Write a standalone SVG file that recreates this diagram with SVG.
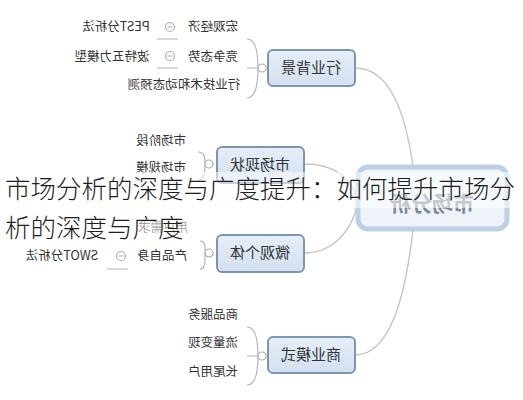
<svg xmlns="http://www.w3.org/2000/svg" width="523" height="400" viewBox="0 0 523 400">
<defs>
<linearGradient id="bg" x1="0" y1="0" x2="0" y2="1"><stop offset="0" stop-color="#e6eef8"/><stop offset="1" stop-color="#d3e0f0"/></linearGradient>
<linearGradient id="ul" x1="0" y1="0" x2="1" y2="0"><stop offset="0" stop-color="#4e7491"/><stop offset="1" stop-color="#7e9bb3"/></linearGradient>
</defs>
<style>
text{font-family:"Noto Sans CJK SC","Noto Sans",sans-serif;text-anchor:middle}
.c{font-size:12.5px;fill:#333}
.b{font-size:15px;fill:#333}
.m{font-size:21px;font-weight:bold;fill:#7d8898}
.bx{fill:url(#bg);stroke:#7f95ae;stroke-width:2}
.u{stroke:url(#ul);stroke-width:3;fill:none}
.k{stroke:#c9c9c2;stroke-width:1.5;fill:none}
.f{stroke:#b0b6bc;stroke-width:1.2;fill:none}
.o{fill:#fff;stroke:#a7afb8;stroke-width:1.2}
.ov{font-size:25.5px;font-weight:300;fill:#1e1e1e;text-anchor:start}
</style>
<rect width="523" height="400" fill="#fff"/>
<g id="connectors">
<path class="k" d="M355,68 C392,68 406,118 413,166"/>
<path class="k" d="M355,355 C392,355 406,290 413,230"/>
<path class="k" d="M304,164 C335,164 352,178 357,200"/>
<path class="k" d="M304,253 C335,253 352,228 357,206"/>
<path class="f" d="M247,39 C256,39 258,52 258,68 C258,84 256,98 247,98 M247,68 L258,68"/>
<path class="f" d="M157,39 L178,39 M157,68 L178,68"/>
<path class="f" d="M198,152 C205,152 205,158 205,164 C205,170 205,180 198,180"/>
<path class="f" d="M200,241 C206,241 205,247 205,253 C205,260 206,269 200,269 M107,269 L128,269"/>
<path class="f" d="M247,327 C256,327 258,340 258,356 C258,372 256,385 247,385 M247,356 L258,356"/>
</g>
<g id="center">
<rect x="358" y="167" width="149" height="62" rx="10" fill="#eef3f9" stroke="#bccfe3" stroke-width="5"/>
<text class="m" transform="translate(432,211) scale(-1,1)">市场分析</text>
</g>
<g id="n-hybj">
<rect class="bx" x="268" y="50" width="87" height="36" rx="5"/>
<text class="b" transform="translate(311,73) scale(-1,1)">行业背景</text>
<circle class="o" cx="262" cy="68" r="4"/>
</g>
<g id="n-hgjj"><line class="u" x1="178" y1="39" x2="247" y2="39"/><text class="c" transform="translate(213,31) scale(-1,1)">宏观经济</text>
<circle class="o" cx="170" cy="27" r="4.5"/><line x1="167.5" y1="27" x2="172.5" y2="27" stroke="#a7afb8"/></g>
<g id="n-pest"><line class="u" x1="75" y1="39" x2="157" y2="39"/><text class="c" transform="translate(116,31) scale(-1,1)">PEST分析法</text></g>
<g id="n-jzts"><line class="u" x1="178" y1="68" x2="247" y2="68"/><text class="c" transform="translate(213,61) scale(-1,1)">竞争态势</text>
<circle class="o" cx="170" cy="56" r="4.5"/><line x1="167.5" y1="56" x2="172.5" y2="56" stroke="#a7afb8"/></g>
<g id="n-btwl"><line class="u" x1="67" y1="68" x2="157" y2="68"/><text class="c" transform="translate(112,61) scale(-1,1)">波特五力模型</text></g>
<g id="n-hyjs"><line class="u" x1="120" y1="98" x2="247" y2="98"/><text class="c" transform="translate(184,89) scale(-1,1)">行业技术和动态预测</text></g>
<g id="n-scxz">
<rect class="bx" x="217" y="147" width="87" height="36" rx="5"/>
<text class="b" transform="translate(260,170) scale(-1,1)">市场现状</text>
<circle class="o" cx="209" cy="164" r="4"/>
</g>
<g id="n-scjd"><line class="u" x1="128" y1="152" x2="198" y2="152"/><text class="c" transform="translate(161,145) scale(-1,1)">市场阶段</text></g>
<g id="n-scgm"><line class="u" x1="128" y1="180" x2="198" y2="180"/><text class="c" transform="translate(161,172) scale(-1,1)">市场规模</text></g>
<g id="n-wggt">
<rect class="bx" x="217" y="235" width="87" height="37" rx="5"/>
<text class="b" transform="translate(260,258) scale(-1,1)">微观个体</text>
<circle class="o" cx="209" cy="253" r="4"/>
</g>
<g id="n-yhxq"><line class="u" x1="128" y1="241" x2="200" y2="241"/><text class="c" transform="translate(163,232) scale(-1,1)">用户需求</text></g>
<g id="n-cpzs"><line class="u" x1="128" y1="269" x2="200" y2="269"/><text class="c" transform="translate(162,260) scale(-1,1)">产品自身</text>
<circle class="o" cx="121" cy="256" r="4.5"/><line x1="118.5" y1="256" x2="123.5" y2="256" stroke="#a7afb8"/></g>
<g id="n-swot"><line class="u" x1="17" y1="269" x2="107" y2="269"/><text class="c" transform="translate(62,260) scale(-1,1)">SWOT分析法</text></g>
<g id="n-syms">
<rect class="bx" x="268" y="337" width="87" height="36" rx="5"/>
<text class="b" transform="translate(311,360) scale(-1,1)">商业模式</text>
<circle class="o" cx="262" cy="356" r="4"/>
</g>
<g id="n-spfw"><line class="u" x1="178" y1="327" x2="247" y2="327"/><text class="c" transform="translate(213,319) scale(-1,1)">商品服务</text></g>
<g id="n-llbx"><line class="u" x1="178" y1="356" x2="247" y2="356"/><text class="c" transform="translate(213,347) scale(-1,1)">流量变现</text></g>
<g id="n-wwyh"><line class="u" x1="178" y1="385" x2="247" y2="385"/><text class="c" transform="translate(213,376) scale(-1,1)">长尾用户</text></g>
<g id="overlay">
<rect x="0" y="172" width="523" height="36" fill="#fff" opacity="0.55"/>
<rect x="0" y="210" width="188" height="34" fill="#fff" opacity="0.55"/>
<text class="ov" x="5" y="198">市场分析的深度与广度提升：如何提升市场分</text>
<text class="ov" x="5" y="237">析的深度与广度</text>
</g>
</svg>
